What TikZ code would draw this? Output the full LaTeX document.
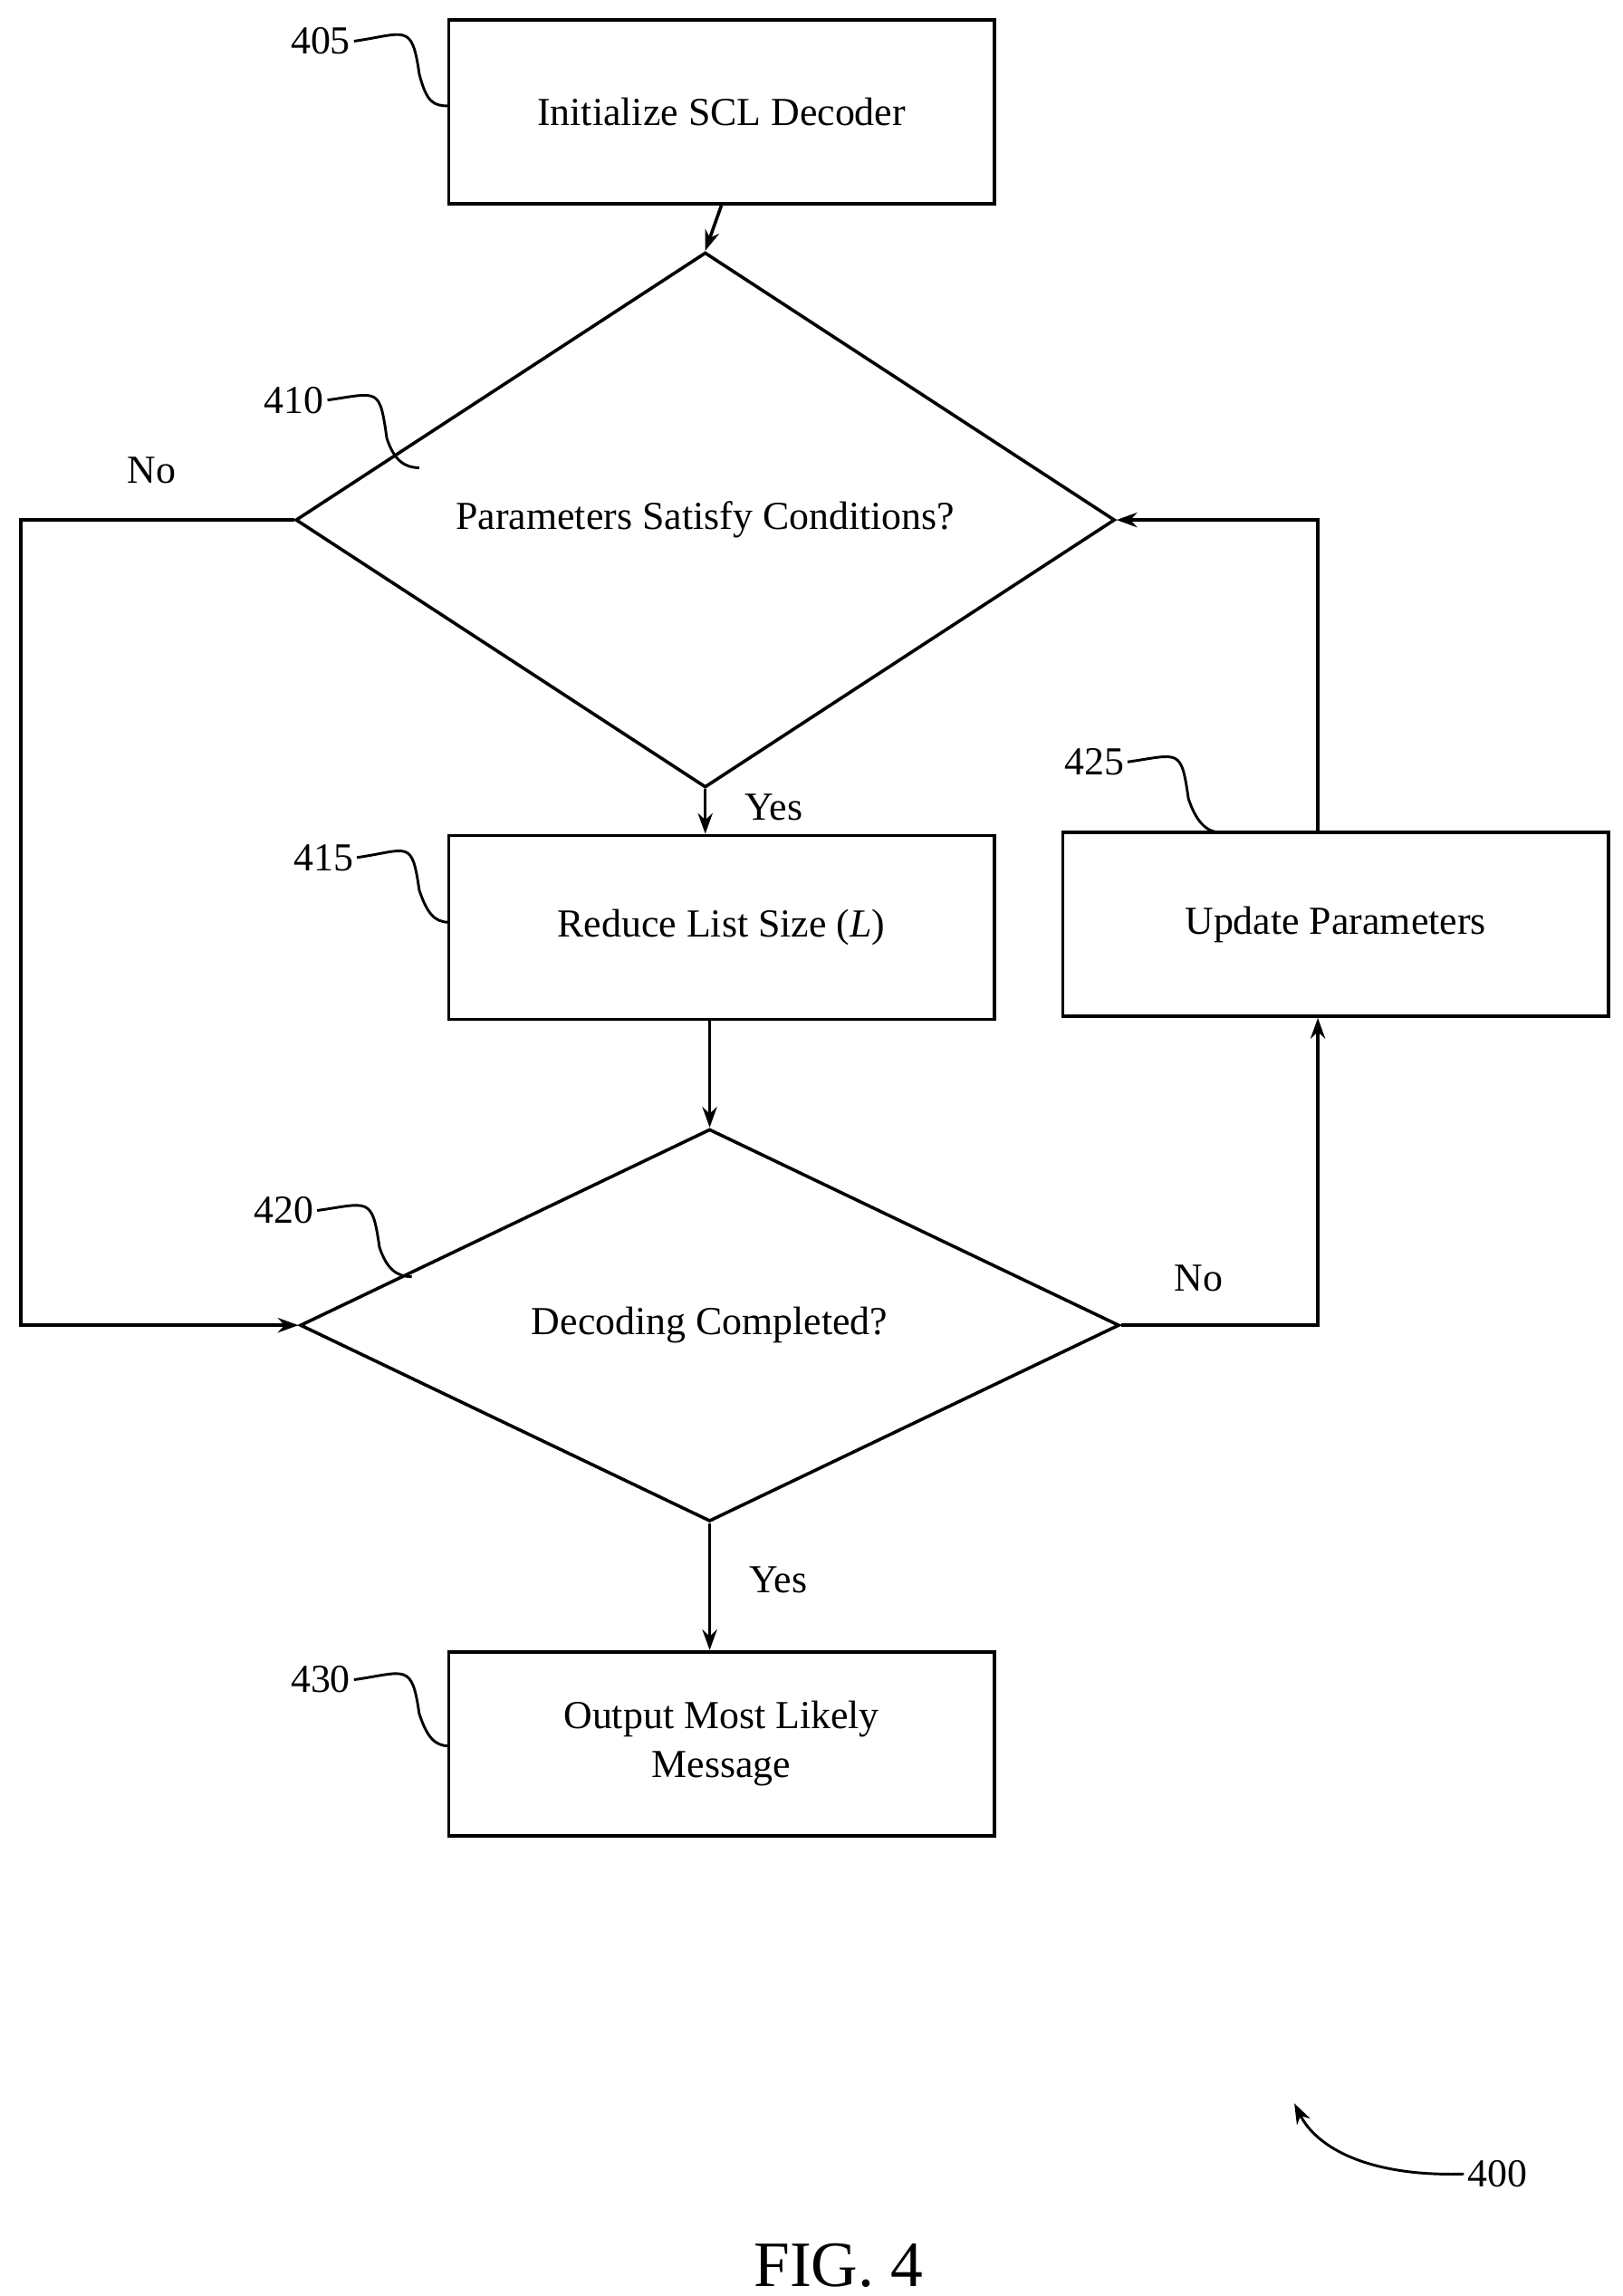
\documentclass[tikz,border=0pt]{standalone}
\usepackage{fontspec}
\setmainfont{Liberation Serif}
\usetikzlibrary{shapes.geometric,arrows.meta}
\begin{document}
\begin{tikzpicture}[x=0.5pt,y=-0.5pt,
  box/.style={draw,line width=1.1pt,minimum width=185.5pt,minimum height=62.5pt,align=center,inner sep=0,font=\fontsize{13.5}{16.5}\selectfont},
  dia/.style={draw,diamond,line width=1.1pt,minimum width=278.5pt,minimum height=117.5pt,inner sep=0,font=\fontsize{13.5}{16}\selectfont},
  lbl/.style={font=\fontsize{13.5}{16}\selectfont,inner sep=1pt},
  ln/.style={line width=1.1pt},
  arr/.style={ln,-{Stealth[length=7pt,width=5pt]}},
  sq/.style={line width=0.9pt}]
\useasboundingbox (0,0) rectangle (1103,1561);
\node[box] (b405) at (490.5,76) {Initialize SCL Decoder};
\node[dia] (d410) at (479.5,353.5) {Parameters Satisfy Conditions?};
\node[box] (b415) at (490.5,630.5) {Reduce List Size (\textit{L})};
\node[box] (b425) at (908,628.5) {Update Parameters};
\node[dia] (d420) at (482.5,901) {Decoding Completed?};
\node[box] (b430) at (490.5,1185.5) {Output Most Likely\\Message};
% ref labels
\node[lbl] (l405) at (218,28) {405};
\node[lbl] (l410) at (200,272) {410};
\node[lbl] (l415) at (220,583) {415};
\node[lbl] (l425) at (744,518) {425};
\node[lbl] (l420) at (193,823) {420};
\node[lbl] (l430) at (218,1142) {430};
\coordinate (e405) at (305,72);
\coordinate (e410) at (285,318);
\coordinate (e415) at (305,627);
\coordinate (e425) at (830,566);
\coordinate (e420) at (280,868);
\coordinate (e430) at (305,1187);
\draw[sq] (l405.east) .. controls +(35,-5) and +(-5,-35) .. (285,50) .. controls +(5,20) and +(-10,0) .. (e405);
\draw[sq] (l410.east) .. controls +(35,-5) and +(-5,-35) .. (263,298) .. controls +(5,15) and +(-10,0) .. (e410);
\draw[sq] (l415.east) .. controls +(35,-5) and +(-5,-35) .. (285,605) .. controls +(5,15) and +(-10,0) .. (e415);
\draw[sq] (l425.east) .. controls +(35,-5) and +(-5,-35) .. (808,543) .. controls +(5,15) and +(-10,0) .. (e425);
\draw[sq] (l420.east) .. controls +(35,-5) and +(-5,-35) .. (258,848) .. controls +(5,15) and +(-10,0) .. (e420);
\draw[sq] (l430.east) .. controls +(35,-5) and +(-5,-35) .. (285,1165) .. controls +(5,15) and +(-10,0) .. (e430);
% connectors
\draw[arr] (b405.south) -- (d410.north);
\draw[arr] (d410.south) -- node[lbl,right=12pt,pos=0.4]{Yes} (b415.north -| d410.south);
\draw[arr] (b415.south -| d420.north) -- (d420.north);
\draw[arr] (d420.south) -- node[lbl,right=12pt,pos=0.45]{Yes} (b430.north -| d420.south);
\coordinate (c1) at (14,353.5);
\coordinate (c2) at (14,901);
\draw[arr] (d410.west) -- (c1) -- (c2) -- (d420.west);
\node[lbl] at (103,320) {No};
\coordinate (c3) at (896,901);
\draw[arr] (d420.east) -- (c3) -- (b425.south -| c3);
\node[lbl] at (815,869) {No};
\coordinate (c4) at (896,353.5);
\draw[arr] (b425.north -| c4) -- (c4) -- (d410.east);
% 400
\node[lbl] (l400) at (1018,1478) {400};
\coordinate (c400) at (880,1430);
\draw[sq,-{Stealth[length=7pt,width=5pt]}] (l400.west) .. controls (930,1480) and (895,1460) .. (c400);
\node[font=\fontsize{22}{26}\selectfont] (fig) at (570,1540) {FIG. 4};
\end{tikzpicture}
\end{document}
